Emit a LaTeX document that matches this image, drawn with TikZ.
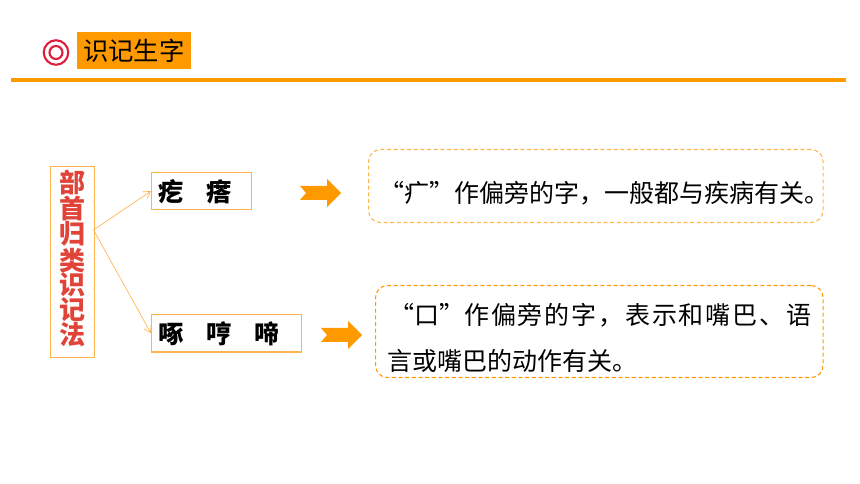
\documentclass[tikz,border=0pt]{standalone}
\usepackage{xcolor}
\usepackage{fontspec}
\setmainfont{Noto Sans CJK SC}
\usetikzlibrary{arrows.meta}
\definecolor{titleorange}{HTML}{FF9900}
\definecolor{lineorange}{HTML}{FFB54D}
\definecolor{ringred}{HTML}{DC1E3C}
\definecolor{methodred}{HTML}{E04438}
\newcommand{\openq}{\makebox[1em][r]{“}}
\newcommand{\closeq}{\makebox[1em][l]{”}}
\tikzset{
  wordbox/.style={draw=lineorange,line width=0.8pt,inner xsep=5.25pt,inner ysep=0pt,anchor=north west,align=left,text height=20pt,text depth=5pt,font=\fontsize{19}{19}\selectfont\bfseries},
  reasonbox/.style={dash pattern=on 3pt off 2pt,line width=0.8pt,rounded corners=9pt,inner sep=0pt,anchor=north west},
  reasontext/.style={inner sep=0pt,anchor=west,font=\fontsize{18.75}{18.75}\selectfont},
  linkline/.style={draw=lineorange,line width=0.5pt,-{Straight Barb[length=5pt,width=6pt]}},
  fatarrow/.pic={\fill[titleorange] (0,0) -- (27,0) -- (27,-7) -- (41,7) -- (27,21) -- (27,14) -- (0,14) -- (6,7) -- cycle;}
}
\begin{document}
\begin{tikzpicture}[x=0.75pt,y=-0.75pt]
    \useasboundingbox (0,0) rectangle (860,484);
    % header
    \node[circle,draw=ringred,line width=1.6pt,minimum size=24.5*0.75pt,inner sep=0pt] (ringouter) at (56,52.5) {};
    \node[circle,draw=ringred,line width=1.6pt,minimum size=13*0.75pt,inner sep=0pt] (ringinner) at (56,52.5) {};
    \node[fill=titleorange,anchor=north west,minimum width=114*0.75pt,minimum height=37*0.75pt,inner sep=0pt,font=\fontsize{19}{19}\selectfont] (title) at (76.5,32) {识记生字};
    \draw[titleorange,line width=2.3pt] (11,80) -- (846,80);
    % left part
    \node[draw=lineorange,line width=0.8pt,anchor=north west,minimum width=44*0.75pt,minimum height=191*0.75pt,inner sep=0pt,align=center,text=methodred,text depth=7pt,font=\fontsize{19.5}{18.6}\selectfont\bfseries] (method) at (49.5,166) {部\\首\\归\\类\\识\\记\\法};
    \node[wordbox,text width=85.5*0.75pt,minimum height=37*0.75pt] (wordsA) at (151,172) {疙\hspace{17pt}瘩};
    \node[wordbox,text width=135.5*0.75pt,minimum height=37.5*0.75pt] (wordsB) at (151,314) {啄\hspace{17pt}哼\hspace{17pt}啼};
    \coordinate (fork) at (93.5,230);
    \draw[linkline] (fork) -- (wordsA.west);
    \draw[linkline] (fork) -- (wordsB.west);
    \pic at (300,186) {fatarrow};
    \pic at (321,328) {fatarrow};
    % right part
    \node[reasonbox,draw=lineorange,minimum width=454.5*0.75pt,minimum height=73*0.75pt] (reasonA) at (368,149) {};
    \node[reasonbox,draw=titleorange,minimum width=447.5*0.75pt,minimum height=92*0.75pt] (reasonB) at (375,285) {};
    \node[reasontext] (textA) at (379,193) {\openq 疒\closeq 作偏旁的字，一般都与疾病有关。};
    \node[reasontext] (textB) at (389,315) {\openq 口\closeq {\addfontfeature{LetterSpace=7.3}作偏旁的字，表示和嘴巴、语}};
    \node[reasontext] (textC) at (387,361) {言或嘴巴的动作有关。};
\end{tikzpicture}
\end{document}
